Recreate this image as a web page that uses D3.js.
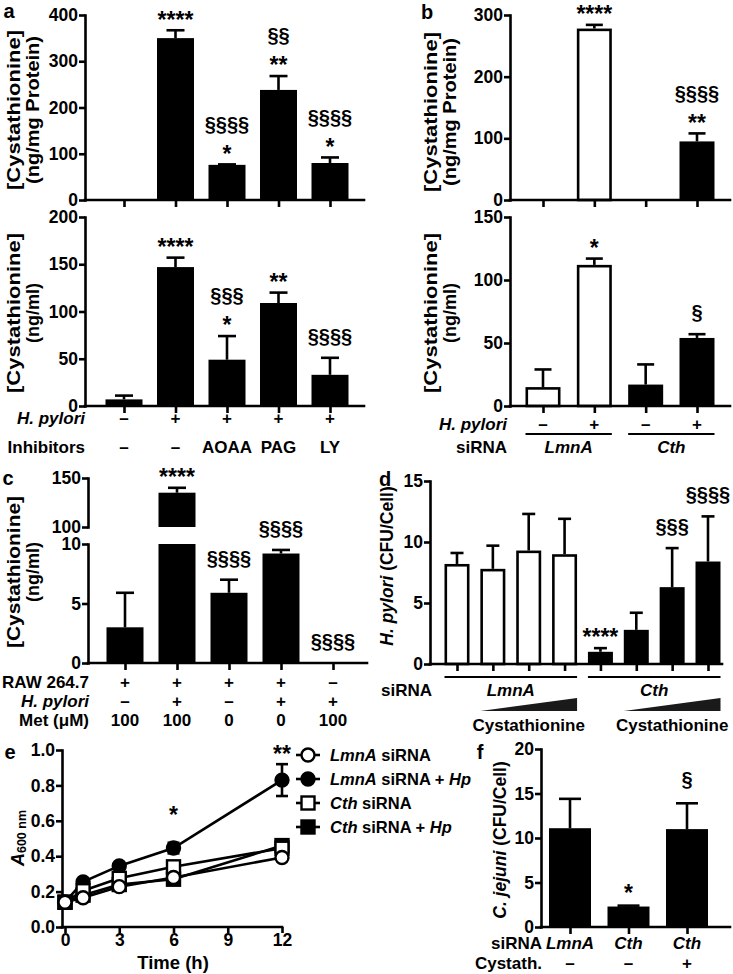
<!DOCTYPE html>
<html><head><meta charset="utf-8">
<script src="https://cdn.jsdelivr.net/npm/d3@7"></script>
<style>body{margin:0;background:#fff}svg{display:block}</style>
</head><body><svg id="fig" width="733" height="974"></svg>
<script>
// ---------------- DATA ----------------
// Panel a
const aCats = ["c1","c2","c3","c4","c5"];
const aHp = ["–","+","+","+","+"];
const aInhib = ["–","–","AOAA","PAG","LY"];
const aTopVals = [0,350,76,238,80];
const aTopErr  = [0,367,77,268,92];
const aTopMarks = [[],["****"],["*","§§§§"],["**","§§"],["*","§§§§"]];
const aTopTicks = [0,100,200,300,400];
const aBotVals = [7,147,49,109,33];
const aBotErr  = [11,157,74,120,51];
const aBotMarks = [[],["****"],["*","§§§"],["**"],["§§§§"]];
const aBotTicks = [0,50,100,150,200];
// Panel b
const bCats = ["c1","c2","c3","c4"];
const bHp = ["–","+","–","+"];
const bGroup = ["LmnA","LmnA","Cth","Cth"];
const bSiRNA = ["LmnA","Cth"];
const bTopVals = [0,278,0,95];
const bTopErr  = [0,284,0,108];
const bTopMarks = [[],["****"],[],["**","§§§§"]];
const bTopTicks = [0,100,200,300];
const bBotVals = [15,112,17,54];
const bBotErr  = [29,117,33,57];
const bBotMarks = [[],["*"],[],["§"]];
const bBotTicks = [0,50,100,150];
// Panel c
const cCats = ["c1","c2","c3","c4","c5"];
const cRaw = ["+","+","+","+","–"];
const cHp = ["–","+","–","+","+"];
const cMet = ["100","100","0","0","100"];
const cVals = [3.0,135,5.9,9.2,0];
const cErr  = [5.9,140,7.0,9.5,0];
const cMarks = [[],["****"],["§§§§"],["§§§§"],["§§§§"]];
const cLowTicks = [0,5,10];
const cHighTicks = [100,150];
// Panel d
const dCats = ["l0","l1","l2","l3","c0","c1","c2","c3"];
const dGroup = ["LmnA","LmnA","LmnA","LmnA","Cth","Cth","Cth","Cth"];
const dVals = [8.2,7.8,9.3,9.0,1.0,2.8,6.3,8.4];
const dErr  = [9.1,9.7,12.3,11.9,1.3,4.2,9.5,12.1];
const dMarks = [[],[],[],[],["****"],[],["§§§"],["§§§§"]];
const dTicks = [0,5,10,15];
// Panel e
const eTimes = [0,1,3,6,12];
const eNames = ["Cth siRNA + Hp","LmnA siRNA + Hp","Cth siRNA","LmnA siRNA"];
const eVals = [
  [0.14,0.18,0.24,0.27,0.46],
  [0.14,0.255,0.345,0.446,0.83],
  [0.14,0.205,0.275,0.34,0.445],
  [0.14,0.165,0.228,0.28,0.393]
];
const eErrs = [
  [0.01,0.01,0.01,0.03,0.02],
  [0.01,0.01,0.01,0.03,0.09],
  [0.01,0.01,0.01,0.01,0.02],
  [0.01,0.01,0.01,0.01,0.02]
];
const eXTicks = [0,3,6,9,12];
const eYTicks = [0,0.2,0.4,0.6,0.8,1.0];
const eLegend = [
  [["LmnA",1],[" siRNA",0]],
  [["LmnA",1],[" siRNA + ",0],["Hp",1]],
  [["Cth",1],[" siRNA",0]],
  [["Cth",1],[" siRNA + ",0],["Hp",1]]
];
const eLegendSeries = ["LmnA siRNA","LmnA siRNA + Hp","Cth siRNA","Cth siRNA + Hp"];
// Panel f
const fCats = ["c1","c2","c3"];
const fSiRNA = ["LmnA","Cth","Cth"];
const fCyst = ["–","–","+"];
const fVals = [11.1,2.3,11.0];
const fErr  = [14.4,2.4,13.9];
const fMarks = [[],["*"],["§"]];
const fTicks = [0,5,10,15,20];

// ---------------- DRAWING ----------------
const F = '"Liberation Sans", Arial, Helvetica, sans-serif';
const LW = 2.6;
const svg = d3.select("#fig").attr("font-family",F).attr("font-weight","bold");
const groupFill = {LmnA:"#fff", Cth:"#000"};
const eStyle = {
  "LmnA siRNA":{shape:"circle",fill:"#fff"},
  "LmnA siRNA + Hp":{shape:"circle",fill:"#000"},
  "Cth siRNA":{shape:"square",fill:"#fff"},
  "Cth siRNA + Hp":{shape:"square",fill:"#000"}
};

function txt(x,y,s,o={}){
  const t = svg.append("text").attr("x",x).attr("y",y)
    .attr("text-anchor",o.anchor||"middle").attr("dominant-baseline","central")
    .attr("font-size",o.fs||17).attr("fill","#000");
  if(o.italic) t.attr("font-style","italic");
  t.text(s); return t;
}
function richText(x,y,parts,o={}){
  const t = svg.append("text").attr("x",x).attr("y",y)
    .attr("text-anchor",o.anchor||"start").attr("dominant-baseline","central")
    .attr("font-size",o.fs||17).attr("fill","#000");
  parts.forEach(p=>t.append("tspan").attr("font-style",p[1]?"italic":"normal").text(p[0]));
  return t;
}
function yTitle(x,y,parts,len,fs){
  const t = svg.append("text").attr("transform",`translate(${x},${y}) rotate(-90)`)
    .attr("text-anchor","middle").attr("dominant-baseline","central")
    .attr("font-size",fs||17).attr("fill","#000");
  if(len) t.attr("textLength",len).attr("lengthAdjust","spacingAndGlyphs");
  parts.forEach(p=>t.append("tspan").attr("font-style",p[1]?"italic":"normal").text(p[0]));
  return t;
}
function line(x1,y1,x2,y2,w){
  return svg.append("line").attr("x1",x1).attr("y1",y1).attr("x2",x2).attr("y2",y2)
    .attr("stroke","#000").attr("stroke-width",w||LW);
}
function yAxis(scale,ticks,x,fmt){
  const ax = d3.axisLeft(scale).tickValues(ticks).tickSize(6).tickSizeOuter(0).tickPadding(1);
  if(fmt) ax.tickFormat(fmt);
  const g = svg.append("g").attr("transform",`translate(${x},0)`).call(ax);
  g.attr("font-family",F).attr("font-size",17.5).attr("font-weight","bold");
  g.select(".domain").attr("stroke","#000").attr("stroke-width",LW).attr("stroke-linecap","square");
  g.selectAll(".tick line").attr("stroke","#000").attr("stroke-width",LW);
  g.selectAll(".tick text").attr("fill","#000");
  return g;
}
function xAxis(pts,y0,x0,x1){
  line(x0,y0,x1,y0).attr("stroke-linecap","square");
  const g = svg.append("g").attr("transform",`translate(0,${y0})`)
    .call(d3.axisBottom(pts).tickSize(7).tickSizeOuter(0).tickFormat(""));
  g.select(".domain").remove();
  g.selectAll(".tick line").attr("stroke","#000").attr("stroke-width",LW);
}
function annotate(x,yTop,lines,gap){
  let bottom = yTop-(gap||11);
  lines.forEach(s=>{
    const star = s.includes("*");
    const fs = star?23:20;
    const base = star ? bottom+0.36*fs : bottom-0.21*fs;
    svg.append("text").attr("x",x).attr("y",base).attr("text-anchor","middle")
      .attr("font-size",fs).attr("fill","#000").text(s);
    bottom = base-0.73*fs-10;
  });
}
function errBar(cx,yv,ye,cap){
  line(cx,yv,cx,ye);
  line(cx-cap/2,ye,cx+cap/2,ye);
}
function bar(cx,bw,yTop,yBot,fill){
  const white = fill!=="#000";
  svg.append("rect").attr("x",cx-bw/2+(white?LW/2:0)).attr("width",bw-(white?LW:0))
    .attr("y",yTop+(white?LW/2:0)).attr("height",Math.max(0,yBot-yTop-(white?LW/2:0)))
    .attr("fill",fill).attr("stroke",white?"#000":"none").attr("stroke-width",LW);
}
function bars(o){
  o.cats.forEach((c,i)=>{
    const v=o.vals[i], e=o.errs[i], cx=o.x(c);
    const fill = o.fills?o.fills[i]:"#000";
    if(v>0){
      if(e>v) errBar(cx,o.y(v),o.y(e),o.cap);
      bar(cx,o.bw,o.y(v),o.y(0),fill);
    }
    annotate(cx,o.y(Math.max(e,v)),o.marks[i],o.gap);
  });
}

// ----- Panel a -----
{
  const x = d3.scalePoint().domain(aCats).range([124,330]);
  const yT = d3.scaleLinear().domain([0,400]).range([200,15]);
  const yB = d3.scaleLinear().domain([0,200]).range([406,217]);
  bars({cats:aCats,vals:aTopVals,errs:aTopErr,marks:aTopMarks,x,y:yT,bw:37,cap:18});
  bars({cats:aCats,vals:aBotVals,errs:aBotErr,marks:aBotMarks,x,y:yB,bw:37,cap:18});
  yAxis(yT,aTopTicks,85); xAxis(x,200,85,364);
  yAxis(yB,aBotTicks,85); xAxis(x,406,85,364);
  yTitle(14,110,[["[Cystathionine]",0]],160,18);
  yTitle(33,110,[["(ng/mg Protein)",0]],148,18);
  yTitle(14,313,[["[Cystathionine]",0]],160,18);
  yTitle(33,313,[["(ng/ml)",0]],null,18);
  txt(85,418,"H. pylori",{anchor:"end",italic:true});
  txt(85,447,"Inhibitors",{anchor:"end"});
  aCats.forEach((c,i)=>{txt(x(c),418,aHp[i]); txt(x(c),447,aInhib[i]);});
  txt(9,11,"a",{fs:20});
}
// ----- Panel b -----
{
  const x = d3.scalePoint().domain(bCats).range([543,697]);
  const yT = d3.scaleLinear().domain([0,300]).range([200,15]);
  const yB = d3.scaleLinear().domain([0,150]).range([406,217]);
  const fills = bGroup.map(g=>groupFill[g]);
  bars({cats:bCats,vals:bTopVals,errs:bTopErr,marks:bTopMarks,x,y:yT,bw:35,cap:17,fills});
  bars({cats:bCats,vals:bBotVals,errs:bBotErr,marks:bBotMarks,x,y:yB,bw:35,cap:17,fills});
  yAxis(yT,bTopTicks,510); xAxis(x,200,510,730);
  yAxis(yB,bBotTicks,510); xAxis(x,406,510,730);
  yTitle(431,112,[["[Cystathionine]",0]],160,18);
  yTitle(450,112,[["(ng/mg Protein)",0]],148,18);
  yTitle(431,313,[["[Cystathionine]",0]],160,18);
  yTitle(450,313,[["(ng/ml)",0]],null,18);
  txt(507,424,"H. pylori",{anchor:"end",italic:true});
  txt(507,447,"siRNA",{anchor:"end"});
  bCats.forEach((c,i)=>txt(x(c),424,bHp[i]));
  bSiRNA.forEach(g=>{
    const cs = bCats.filter((c,i)=>bGroup[i]===g);
    const x0 = x(cs[0])-17.5, x1 = x(cs[cs.length-1])+17.5;
    line(x0,434,x1,434,1.8);
    txt((x0+x1)/2,447,g,{italic:true});
  });
  txt(427,12,"b",{fs:20});
}
// ----- Panel c -----
{
  const x = d3.scalePoint().domain(cCats).range([125,333]);
  const yLo = d3.scaleLinear().domain([0,10]).range([663,544]);
  const yHi = d3.scaleLinear().domain([100,150]).range([527,478]);
  const bw=37, cap=18;
  cCats.forEach((c,i)=>{
    const v=cVals[i], e=cErr[i], cx=x(c);
    if(v>0){
      if(v>10){
        if(e>v) errBar(cx,yHi(v),yHi(e),cap);
        bar(cx,bw,yHi(v),yHi(100),"#000");
        bar(cx,bw,yLo(10),yLo(0),"#000");
      } else {
        if(e>v) errBar(cx,yLo(v),yLo(e),cap);
        bar(cx,bw,yLo(v),yLo(0),"#000");
      }
    }
    const top = Math.max(e,v);
    annotate(cx, top>10?yHi(top):yLo(top), cMarks[i]);
  });
  yAxis(yHi,cHighTicks,88); yAxis(yLo,cLowTicks,88);
  xAxis(x,663,88,367);
  yTitle(14,572,[["[Cystathionine]",0]],152,18);
  yTitle(33,572,[["(ng/ml)",0]],null,18);
  txt(89,682,"RAW 264.7",{anchor:"end"});
  txt(89,701,"H. pylori",{anchor:"end",italic:true});
  txt(89,720,"Met (μM)",{anchor:"end"});
  cCats.forEach((c,i)=>{txt(x(c),682,cRaw[i]); txt(x(c),701,cHp[i]); txt(x(c),720,cMet[i]);});
  txt(8,478,"c",{fs:20});
}
// ----- Panel d -----
{
  const x = d3.scalePoint().domain(dCats).range([457,708]);
  const y = d3.scaleLinear().domain([0,15]).range([664,481]);
  const fills = dGroup.map(g=>groupFill[g]);
  bars({cats:dCats,vals:dVals,errs:dErr,marks:dMarks,x,y,bw:25,cap:13,fills});
  yAxis(y,dTicks,430); xAxis(x,664,430,722);
  yTitle(387,566,[["H. pylori",1],[" (CFU/Cell)",0]],null,17.5);
  txt(432,690,"siRNA",{anchor:"end"});
  ["LmnA","Cth"].forEach(g=>{
    const cs = dCats.filter((c,i)=>dGroup[i]===g);
    const x0 = x(cs[0])-12.5, x1 = x(cs[cs.length-1])+12.5;
    line(x0,677,x1,677,1.8);
    txt((x0+x1)/2,690,g,{italic:true});
    const t0 = x(cs[1])-12.5;
    svg.append("path").attr("d",d3.line()([[t0,711],[x1,711],[x1,698]])+"Z").attr("fill","#1a1a1a");
    txt((t0+x1)/2,725,"Cystathionine");
  });
  txt(385,479,"d",{fs:20});
}
// ----- Panel e -----
{
  const x = d3.scaleLinear().domain([0,12]).range([65,282]);
  const y = d3.scaleLinear().domain([0,1]).range([927,750]);
  const gx = svg.append("g").attr("transform","translate(0,927)")
    .call(d3.axisBottom(x).tickValues(eXTicks).tickSize(6).tickSizeOuter(0).tickPadding(1));
  gx.attr("font-family",F).attr("font-size",17.5).attr("font-weight","bold");
  gx.select(".domain").remove();
  gx.selectAll(".tick line").attr("stroke","#000").attr("stroke-width",LW);
  gx.selectAll(".tick text").attr("fill","#000");
  line(62,927,282,927).attr("stroke-linecap","square");
  yAxis(y,eYTicks,62,d3.format(".1f"));
  const mk = (cx,cy,st)=>{
    if(st.shape==="circle") svg.append("circle").attr("cx",cx).attr("cy",cy).attr("r",6.5)
      .attr("fill",st.fill).attr("stroke","#000").attr("stroke-width",2.4);
    else svg.append("rect").attr("x",cx-6.5).attr("y",cy-6.5).attr("width",13).attr("height",13)
      .attr("fill",st.fill).attr("stroke","#000").attr("stroke-width",2.4);
  };
  const ln = d3.line().x(d=>x(d[0])).y(d=>y(d[1]));
  eNames.forEach((n,s)=>{
    const pts = eTimes.map((t,i)=>[t,eVals[s][i]]);
    svg.append("path").attr("d",ln(pts)).attr("fill","none").attr("stroke","#000").attr("stroke-width",LW);
  });
  eNames.forEach((n,s)=>{
    eTimes.forEach((t,i)=>{
      const v=eVals[s][i], e=eErrs[s][i];
      line(x(t),y(v-e),x(t),y(v+e));
      line(x(t)-6,y(v-e),x(t)+6,y(v-e));
      line(x(t)-6,y(v+e),x(t)+6,y(v+e));
      mk(x(t),y(v),eStyle[n]);
    });
  });
  annotate(x(6),y(0.48),["*"],27);
  annotate(x(12),y(0.92),["**"],10);
  eLegendSeries.forEach((n,i)=>{
    const yy = 755+i*24;
    line(296,yy,320,yy);
    mk(308,yy,eStyle[n]);
    richText(330,yy,eLegend[i],{fs:16.5});
  });
  const t = svg.append("text").attr("transform","translate(18,838) rotate(-90)")
    .attr("text-anchor","middle").attr("dominant-baseline","central").attr("font-size",18).attr("fill","#000");
  t.append("tspan").attr("font-style","italic").text("A");
  t.append("tspan").attr("font-size",12.5).attr("dy",4).text("600 nm");
  txt(173,962,"Time (h)",{fs:18.5});
  txt(10,752,"e",{fs:20});
}
// ----- Panel f -----
{
  const x = d3.scalePoint().domain(fCats).range([570,687]);
  const y = d3.scaleLinear().domain([0,20]).range([927,749]);
  bars({cats:fCats,vals:fVals,errs:fErr,marks:fMarks,x,y,bw:42,cap:22,gap:13});
  yAxis(y,fTicks,541); xAxis(x,927,541,730);
  yTitle(500,840,[["C. jejuni",1],[" (CFU/Cell)",0]],null,17.5);
  txt(542,943,"siRNA",{anchor:"end"});
  txt(542,963,"Cystath.",{anchor:"end"});
  fCats.forEach((c,i)=>{txt(x(c),943,fSiRNA[i],{italic:true}); txt(x(c),963,fCyst[i]);});
  txt(480,752,"f",{fs:20});
}
</script></body></html>
